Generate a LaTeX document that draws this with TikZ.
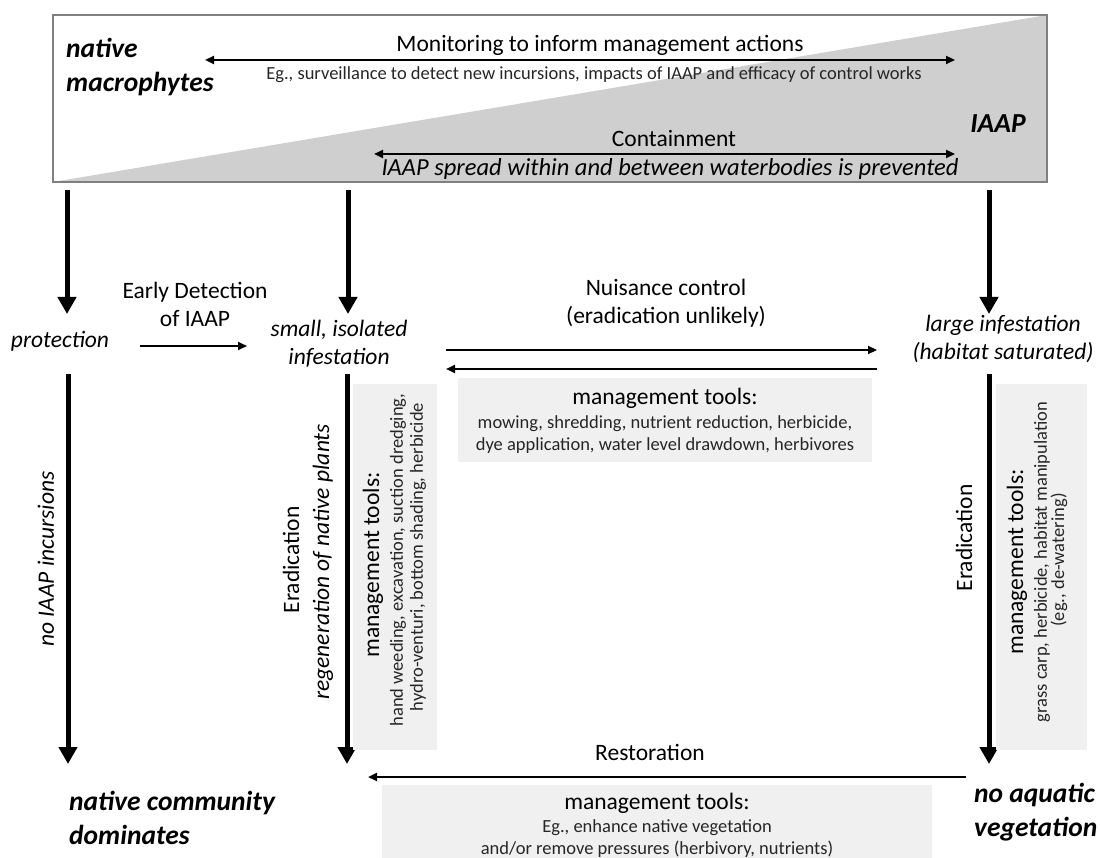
\documentclass[tikz,border=0pt]{standalone}
\usepackage{fontspec}
\setmainfont{Carlito}
\usetikzlibrary{arrows.meta}
\newcommand{\bigtxt}{\fontsize{23.5}{28}\selectfont}
\newcommand{\smalltxt}{\fontsize{18.5}{22}\selectfont}
\newcommand{\headtxt}{\fontsize{27.5}{34}\selectfont\bfseries\itshape}
\tikzset{
  bigarrow/.style={line width=5pt,-{Triangle[length=17pt,width=18pt]}},
  thinarrow/.style={line width=2.2pt,-{Triangle[length=9pt,width=8pt]}},
  twoway/.style={line width=2.2pt,{Triangle[length=9pt,width=8pt]}-{Triangle[length=9pt,width=8pt]}},
  toolbox/.style={fill=black!6,draw=none},
  lbl/.style={inner sep=0pt,font=\bigtxt},
  note/.style={inner sep=0pt,font=\smalltxt,text=black!85},
  head/.style={inner sep=0pt,font=\headtxt,align=left},
}
\begin{document}
\begin{tikzpicture}[x=1pt,y=-1pt]
\useasboundingbox (0,0) rectangle (1100,858);

% top band: native macrophytes -> IAAP
\fill[black!19] (53,182) -- (1047,15) -- (1047,182) -- cycle;
\draw[black!50,line width=1.5pt] (53,15) rectangle (1047,182);
\node[head,anchor=west] (natmac) at (66,67) {native\\macrophytes};
\node[head] (iaap) at (998,124) {IAAP};
\node[lbl] (monit) at (600,45) {Monitoring to inform management actions};
\coordinate (monL) at (205,60);
\coordinate (monR) at (955,60);
\draw[twoway] (monL) -- (monR);
\node[note] (monitEg) at (594,75) {Eg., surveillance to detect new incursions, impacts of IAAP and efficacy of control works};
\node[lbl] (contain) at (674,139) {Containment};
\coordinate (conL) at (374,154);
\coordinate (conR) at (955,154);
\draw[twoway] (conL) -- (conR);
\node[lbl,font=\fontsize{24.5}{28}\selectfont\itshape] (spread) at (670,169) {IAAP spread within and between waterbodies is prevented};

% states
\node[lbl,font=\bigtxt\itshape] (protect) at (60,341) {protection};
\node[lbl,font=\bigtxt\itshape,align=center] (small) at (339,344) {small, isolated\\infestation};
\node[lbl,font=\bigtxt\itshape,align=center] (large) at (1003,339) {large infestation\\(habitat saturated)};
\node[head,anchor=west] (natcom) at (69,818) {native community\\dominates};
\node[head,anchor=west] (noaq) at (974,812) {no aquatic\\vegetation};

% arrows from the band
\foreach \x/\n in {67/a,348/b,989/c}{
  \coordinate (top\n) at (\x,190);
  \coordinate (tip\n) at (\x,314);
  \draw[bigarrow] (top\n) -- (tip\n);
}

% early detection
\node[lbl,align=center] (early) at (195,304) {Early Detection\\of IAAP};
\coordinate (earlyL) at (140,346);
\coordinate (earlyR) at (247,346);
\draw[thinarrow] (earlyL) -- (earlyR);

% nuisance control
\node[lbl,align=center] (nuis) at (666,303) {Nuisance control\\(eradication unlikely)};
\coordinate (nuisL) at (446,350);
\coordinate (nuisR) at (877,350);
\coordinate (backL) at (446,369);
\coordinate (backR) at (877,369);
\draw[thinarrow] (nuisL) -- (nuisR);
\draw[thinarrow] (backR) -- (backL);
\fill[toolbox] (458,378) rectangle (872,462);
\node[lbl] (nuisTools) at (665,398) {management tools:};
\node[note] (nuisT1) at (665,424) {mowing, shredding, nutrient reduction, herbicide,};
\node[note] (nuisT2) at (665,446) {dye application, water level drawdown, herbivores};

% downward paths
\foreach \x/\n in {68/a,347/b,989/c}{
  \coordinate (low\n) at (\x,374);
  \coordinate (end\n) at (\x,764);
  \draw[bigarrow] (low\n) -- (end\n);
}
\node[lbl,font=\bigtxt\itshape,rotate=90] (noinc) at (46,559) {no IAAP incursions};

% eradication of small infestation
\node[lbl,rotate=90] (erad1) at (291,560) {Eradication};
\node[lbl,font=\bigtxt\itshape,rotate=90] (regen) at (323,562) {regeneration of native plants};
\fill[toolbox] (353,384) rectangle (437,750);
\node[lbl,rotate=90] (smallTools) at (373,565) {management tools:};
\node[note,rotate=90] (smallT1) at (398,560) {hand weeding, excavation, suction dredging,};
\node[note,rotate=90] (smallT2) at (418,557) {hydro-venturi, bottom shading, herbicide};

% eradication of large infestation
\node[lbl,rotate=90] (erad2) at (964,538) {Eradication};
\fill[toolbox] (996,384) rectangle (1087,750);
\node[lbl,rotate=90] (largeTools) at (1017,562) {management tools:};
\node[note,rotate=90] (largeT1) at (1042,562) {grass carp, herbicide, habitat manipulation};
\node[note,rotate=90] (largeT2) at (1059,560) {(eg., de-watering)};

% restoration
\node[lbl] (restore) at (650,752) {Restoration};
\coordinate (restR) at (966,777);
\coordinate (restL) at (368,777);
\draw[thinarrow] (restR) -- (restL);
\fill[toolbox] (382,785) rectangle (932,858);
\node[lbl] (restTools) at (657,803) {management tools:};
\node[note] (restT1) at (657,828) {Eg., enhance native vegetation};
\node[note] (restT2) at (657,849) {and/or remove pressures (herbivory, nutrients)};
\end{tikzpicture}
\end{document}
